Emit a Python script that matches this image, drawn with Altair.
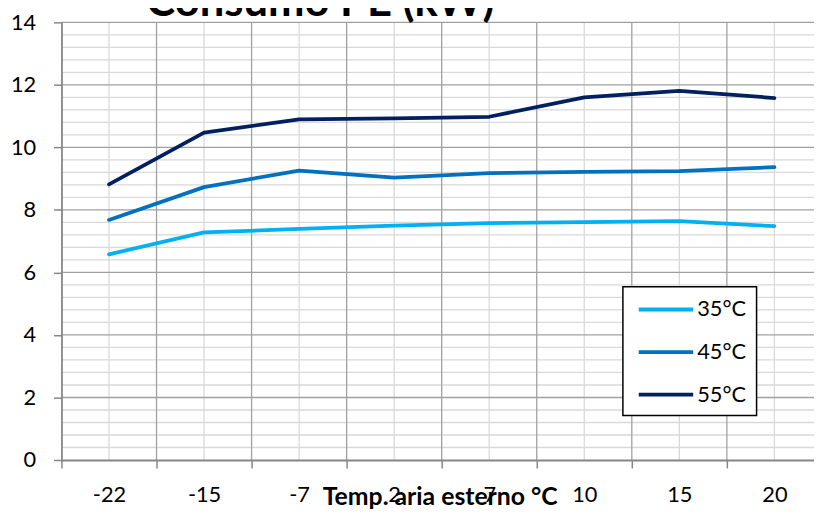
import altair as alt
import pandas as pd

# ---- data ----
temps = ["-22", "-15", "-7", "2", "7", "10", "15", "20"]
s35 = [6.58, 7.28, 7.39, 7.50, 7.58, 7.61, 7.64, 7.48]
s45 = [7.68, 8.73, 9.26, 9.03, 9.18, 9.22, 9.24, 9.37]
s55 = [8.82, 10.47, 10.90, 10.93, 10.98, 11.60, 11.81, 11.58]
series_names = ["35°C", "45°C", "55°C"]
series_colors = ["#00B0F0", "#0070C0", "#002060"]
major_y = [0, 2, 4, 6, 8, 10, 12, 14]
minor_y = [0.4, 0.8, 1.2, 1.6, 2.4, 2.8, 3.2, 3.6, 4.4, 4.8, 5.2, 5.6,
           6.4, 6.8, 7.2, 7.6, 8.4, 8.8, 9.2, 9.6, 10.4, 10.8, 11.2, 11.6,
           12.4, 12.8, 13.2, 13.6]
chart_title = "Consumo PE (kW)"
x_title = "Temp. aria esterno °C"

rows = []
for name, vals in zip(series_names, [s35, s45, s55]):
    for t, v in zip(temps, vals):
        rows.append({"temp": t, "series": name, "value": v})
df = pd.DataFrame(rows)

FONT = "Lato"
LIGHT = "#d9d9d9"
DARK = "#a0a0a0"
AXIS = "#868686"

# visible plot is 760 px wide; the band range runs to 768 so the last band passes the edge
xscale = alt.Scale(type="band", paddingInner=0, paddingOuter=0, range=[0, 768])
yscale = alt.Scale(domain=[0, 14], nice=False, zero=True)

x_axis = alt.Axis(
    tickBand="extent", grid=False, labelAngle=0,
    tickSize=8, tickColor=AXIS, tickWidth=1.5,
    domainColor=AXIS, domainWidth=1.8,
    labelFont=FONT, labelFontSize=22, labelColor="black",
    labelBaseline="alphabetic", labelPadding=34,
    title=x_title, titleFont=FONT, titleFontSize=25, titleFontWeight="bold",
    titleColor="black", titleX=382, titleY=45, titleAlign="center",
    titleBaseline="alphabetic", zindex=1,
)
y_axis = alt.Axis(
    values=major_y, grid=False, tickSize=8, tickColor=AXIS, tickWidth=1.5,
    domainColor=AXIS, domainWidth=1.8,
    labelFont=FONT, labelFontSize=22, labelColor="black", labelPadding=18,
    title=None, zindex=1,
)


def xenc(band):
    return alt.X("temp:N", sort=temps, scale=xscale, bandPosition=band, axis=x_axis)


def yenc(field):
    return alt.Y(field, scale=yscale, axis=y_axis)


minor_rules = alt.Chart(pd.DataFrame({"value": minor_y})).mark_rule(
    color=LIGHT, strokeWidth=1.3
).encode(y=yenc("value:Q"))

center_rules = alt.Chart(pd.DataFrame({"temp": temps})).mark_rule(
    color=LIGHT, strokeWidth=1.3
).encode(x=xenc(0.5))

major_rules = alt.Chart(pd.DataFrame({"value": major_y[1:]})).mark_rule(
    color=DARK, strokeWidth=1.3
).encode(y=yenc("value:Q"))

bound_rules = alt.Chart(pd.DataFrame({"temp": temps[1:]})).mark_rule(
    color=DARK, strokeWidth=1.3
).encode(x=xenc(0))

lines = alt.Chart(df).mark_line(strokeWidth=3.8, strokeCap="round", strokeJoin="round").encode(
    x=xenc(0.5),
    y=yenc("value:Q"),
    color=alt.Color("series:N", scale=alt.Scale(domain=series_names, range=series_colors),
                    legend=alt.Legend(
                        title=None, orient="none", legendX=567, legendY=267,
                        symbolType="M-0.636,0H4.364", symbolSize=484,
                        symbolStrokeWidth=3.8, labelOffset=39,
                        labelFont=FONT, labelFontSize=22, labelColor="black",
                        padding=10, rowPadding=19,
                        fillColor="white", strokeColor="black",
                    )),
)

title_mark = alt.Chart(pd.DataFrame({"t": [chart_title]})).mark_text(
    font=FONT, fontSize=44, fontWeight="bold", align="center",
    baseline="alphabetic", color="black"
).encode(text="t:N", x=alt.value(261.5), y=alt.value(-6))

chart = alt.layer(
    minor_rules, center_rules, major_rules, bound_rules, lines, title_mark
).properties(
    width=760, height=442,
    autosize=alt.AutoSizeParams(type="none"),
    padding={"left": 54, "top": 12, "right": 0, "bottom": 49},
).configure_view(stroke=None).configure_legend(strokeWidth=1.5)

chart.save("out.html", embed_options={"renderer": "svg", "actions": False})
